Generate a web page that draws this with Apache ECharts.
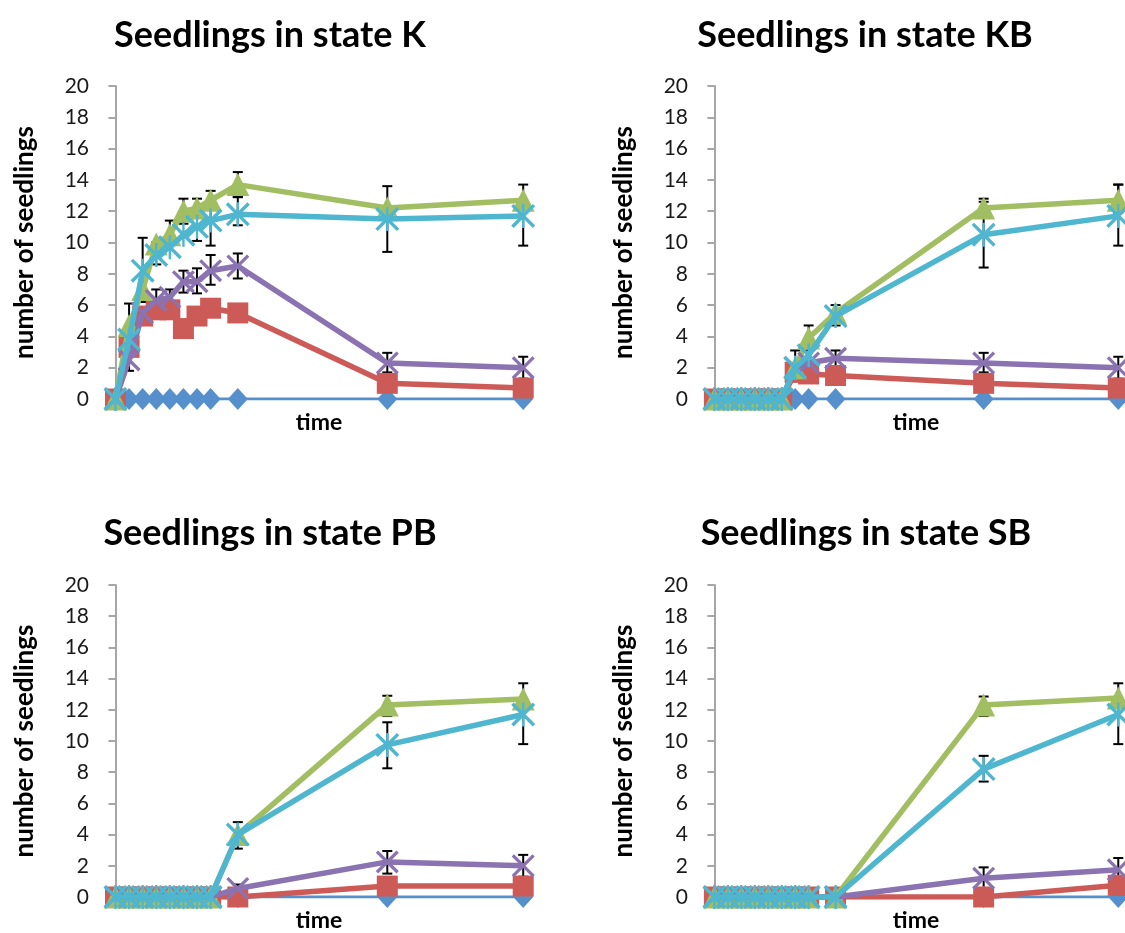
<!DOCTYPE html>
<html>
<head>
<meta charset="utf-8">
<script src="https://cdn.jsdelivr.net/npm/echarts@6/dist/echarts.min.js"></script>
<style>
  html, body { margin: 0; padding: 0; background: #fff; }
  #chart { width: 1125px; height: 933px; }
</style>
</head>
<body>
<div id="chart"></div>
<script>
// time points (shared x values)
var times = [0, 1, 2, 3, 4, 5, 6, 7, 9, 20, 30];

var panelTitles = ['Seedlings in state K', 'Seedlings in state KB', 'Seedlings in state PB', 'Seedlings in state SB'];
var yTicks = [0, 2, 4, 6, 8, 10, 12, 14, 16, 18, 20];

// state K
var kBlue   = [0, 0, 0, 0, 0, 0, 0, 0, 0, 0, 0];
var kRed    = [0, 3.3, 5.3, 5.7, 5.7, 4.5, 5.3, 5.8, 5.5, 1.0, 0.7];
var kGreen  = [0, 4.7, 7.0, 9.9, 10.5, 12.0, 12.2, 12.7, 13.7, 12.2, 12.7];
var kPurple = [0, 2.5, 5.5, 6.3, 6.5, 7.5, 7.5, 8.2, 8.5, 2.3, 2.0];
var kCyan   = [0, 3.8, 8.2, 9.2, 9.7, 10.5, 11.0, 11.4, 11.8, 11.5, 11.7];
var kErr = [[1, 1.8, 6.1], [2, 6.2, 10.3], [3, 8.6, 10.0], [3, 6.0, 7.0], [4, 10.0, 11.4], [4, 6.0, 7.0],
            [5, 11.2, 12.8], [5, 6.8, 8.2], [6, 10.1, 12.8], [6, 6.75, 8.35], [7, 9.8, 13.3], [7, 7.3, 9.2],
            [9, 12.9, 14.5], [9, 11.1, 12.9], [9, 7.7, 9.3], [20, 9.4, 13.6], [20, 1.7, 2.95],
            [30, 9.8, 13.7], [30, 1.3, 2.7]];

// state KB
var kbBlue   = [0, 0, 0, 0, 0, 0, 0, 0, 0, 0, 0];
var kbRed    = [0, 0, 0, 0, 0, 0, 1.7, 1.6, 1.5, 1.0, 0.7];
var kbGreen  = [0, 0, 0, 0, 0, 0, 2.0, 3.9, 5.5, 12.2, 12.7];
var kbPurple = [0, 0, 0, 0, 0, 0, 2.0, 2.3, 2.6, 2.3, 2.0];
var kbCyan   = [0, 0, 0, 0, 0, 0, 2.0, 2.8, 5.3, 10.5, 11.7];
var kbErr = [[6, 1.2, 3.1], [7, 3.1, 4.7], [9, 4.7, 6.0], [9, 2.1, 3.1], [20, 11.8, 12.8], [20, 8.4, 12.6],
             [20, 1.7, 2.95], [30, 11.9, 13.7], [30, 9.8, 13.7], [30, 1.3, 2.7]];

// state PB
var pbBlue   = [0, 0, 0, 0, 0, 0, 0, 0, 0, 0, 0];
var pbRed    = [0, 0, 0, 0, 0, 0, 0, 0, 0, 0.7, 0.7];
var pbGreen  = [0, 0, 0, 0, 0, 0, 0, 0, 4.0, 12.3, 12.7];
var pbPurple = [0, 0, 0, 0, 0, 0, 0, 0, 0.55, 2.25, 2.0];
var pbCyan   = [0, 0, 0, 0, 0, 0, 0, 0, 4.0, 9.75, 11.7];
var pbErr = [[9, 3.1, 4.8], [9, 0.3, 0.8], [20, 11.6, 12.9], [20, 8.25, 11.2], [20, 1.5, 2.95],
             [30, 9.8, 13.7], [30, 1.3, 2.7]];

// state SB
var sbBlue   = [0, 0, 0, 0, 0, 0, 0, 0, 0, 0, 0];
var sbRed    = [0, 0, 0, 0, 0, 0, 0, 0, 0, 0, 0.75];
var sbGreen  = [0, 0, 0, 0, 0, 0, 0, 0, 0, 12.3, 12.75];
var sbPurple = [0, 0, 0, 0, 0, 0, 0, 0, 0, 1.2, 1.75];
var sbCyan   = [0, 0, 0, 0, 0, 0, 0, 0, 0, 8.2, 11.7];
var sbErr = [[20, 11.6, 12.85], [20, 7.4, 9.05], [20, 0.55, 1.9], [30, 9.8, 13.7], [30, 1.0, 2.5]];

var panels = [
  { series: [kBlue, kRed, kGreen, kPurple, kCyan], err: kErr },
  { series: [kbBlue, kbRed, kbGreen, kbPurple, kbCyan], err: kbErr },
  { series: [pbBlue, pbRed, pbGreen, pbPurple, pbCyan], err: pbErr },
  { series: [sbBlue, sbRed, sbGreen, sbPurple, sbCyan], err: sbErr }
];

var colors = ['#5690CC', '#CC5B57', '#A2BE62', '#8B72B0', '#4FB6CF'];
var xMark = 'path://M0,2L2,0L20,18L18,20ZM18,0L20,2L2,20L0,18Z';
var starMark = 'path://M0,2L2,0L20,18L18,20ZM18,0L20,2L2,20L0,18ZM9,0L11,0L11,20L9,20Z';
var symbols = ['diamond', 'rect', 'triangle', xMark, starMark];
var symSizes = [[20, 22], 21, 23, 23, 24];
var lineWidths = [3, 5.5, 5.5, 5.5, 5.5];

var FONT = 'Lato';

var gridPos = [
  { left: 108, top: 86, width: 422, height: 313 },
  { left: 707, top: 86, width: 418, height: 313 },
  { left: 108, top: 585, width: 422, height: 314 },
  { left: 707, top: 585, width: 418, height: 314 }
];
var titlePos = [[265, 12], [860, 12], [265, 510], [861, 510]];

var chart = echarts.init(document.getElementById('chart'));

var option = {
  animation: false,
  title: [],
  grid: [],
  xAxis: [],
  yAxis: [],
  series: []
};

panels.forEach(function (p, g) {
  option.title.push({
    text: panelTitles[g],
    left: titlePos[g][0],
    top: titlePos[g][1],
    textAlign: 'center',
    textStyle: { fontFamily: FONT, fontWeight: 'bold', fontSize: 36, color: '#000' }
  });
  option.grid.push(gridPos[g]);
  option.xAxis.push({
    type: 'value', gridIndex: g, min: -0.55, max: 30.5,
    name: 'time', nameLocation: 'middle', nameGap: 12,
    nameTextStyle: { fontFamily: FONT, fontWeight: 'bold', fontSize: 23, color: '#000' },
    axisLine: { show: false }, axisTick: { show: false }, axisLabel: { show: false },
    splitLine: { show: false }
  });
  option.yAxis.push({
    type: 'value', gridIndex: g, min: yTicks[0], max: yTicks[yTicks.length - 1], interval: 2,
    name: 'number of seedlings', nameLocation: 'middle', nameGap: 70, nameRotate: 90,
    nameTextStyle: { fontFamily: FONT, fontWeight: 'bold', fontSize: 26, color: '#000' },
    axisLine: { show: true, lineStyle: { color: '#A6A6A6', width: 2 } },
    axisTick: { show: true, length: 7, lineStyle: { color: '#A6A6A6', width: 2 } },
    axisLabel: { fontFamily: FONT, fontSize: 21, color: '#1a1a1a', margin: 19 },
    splitLine: { show: false }
  });

  option.series.push({
    type: 'custom', xAxisIndex: g, yAxisIndex: g, z: 1, silent: true,
    data: p.err,
    encode: { x: 0, y: [1, 2] },
    renderItem: function (params, api) {
      var top = api.coord([api.value(0), api.value(2)]);
      var bot = api.coord([api.value(0), api.value(1)]);
      var w = 5;
      var st = { stroke: '#000', lineWidth: 2 };
      return {
        type: 'group',
        children: [
          { type: 'line', shape: { x1: top[0], y1: top[1], x2: bot[0], y2: bot[1] }, style: st },
          { type: 'line', shape: { x1: top[0] - w, y1: top[1], x2: top[0] + w, y2: top[1] }, style: st },
          { type: 'line', shape: { x1: bot[0] - w, y1: bot[1], x2: bot[0] + w, y2: bot[1] }, style: st }
        ]
      };
    }
  });

  p.series.forEach(function (vals, s) {
    option.series.push({
      type: 'line', xAxisIndex: g, yAxisIndex: g, z: 2 + s,
      data: times.map(function (t, i) { return [t, vals[i]]; }),
      symbol: symbols[s], symbolSize: symSizes[s],
      lineStyle: { color: colors[s], width: lineWidths[s] },
      itemStyle: { color: colors[s] },
      showAllSymbol: true
    });
  });
});

chart.setOption(option);
</script>
</body>
</html>
